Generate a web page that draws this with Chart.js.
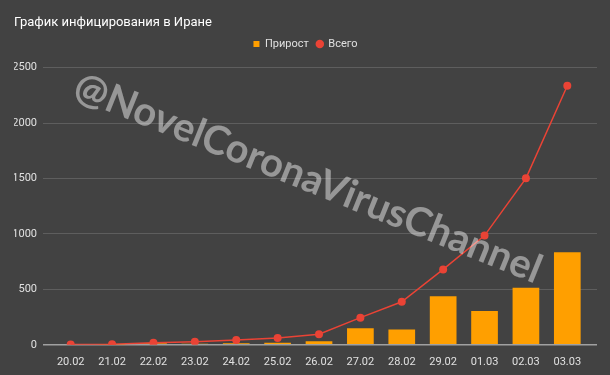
<!DOCTYPE html>
<html>
<head>
<meta charset="utf-8">
<script src="https://cdn.jsdelivr.net/npm/chart.js@4.4.1/dist/chart.umd.min.js"></script>
<style>
  html, body { margin: 0; padding: 0; background: #424242; }
  #wrap { width: 610px; height: 375px; }
</style>
</head>
<body>
<div id="wrap"><canvas id="chart" width="610" height="375"></canvas></div>
<script>
// --- Datos ---
const dias = ["20.02", "21.02", "22.02", "23.02", "24.02", "25.02", "26.02",
              "27.02", "28.02", "29.02", "01.03", "02.03", "03.03"];
const prirost = [0, 3, 13, 10, 15, 18, 32, 150, 138, 437, 304, 515, 835];
const vsego = [2, 5, 18, 28, 43, 61, 95, 245, 388, 680, 985, 1501, 2336];
const yTicks = [0, 500, 1000, 1500, 2000, 2500];

const ORANGE = "#ff9f00";
const RED = "#ea4335";
const TXT = "#e0e0e0";

// marca de agua encima del gráfico
const watermark = {
  id: "watermark",
  afterDraw(chart) {
    const ctx = chart.ctx;
    const text = "@NovelCoronaVirusChannel";
    ctx.save();
    ctx.font = "bold 40px Lato";
    const w = ctx.measureText(text).width;
    ctx.translate(308, 178);
    ctx.rotate(22 * Math.PI / 180);
    ctx.scale(500 / w, 1);
    ctx.fillStyle = "rgba(255,255,255,0.45)";
    ctx.textAlign = "center";
    ctx.textBaseline = "middle";
    ctx.fillText(text, 0, 0);
    ctx.restore();
  }
};

// un poco más de aire bajo la leyenda
const legendGap = {
  id: "legendGap",
  beforeInit(chart) {
    const fit = chart.legend.fit;
    chart.legend.fit = function () {
      fit.bind(chart.legend)();
      this.height += 8;
    };
  }
};

const ctx = document.getElementById("chart").getContext("2d");
new Chart(ctx, {
  data: {
    labels: dias,
    datasets: [
      {
        type: "bar",
        label: "Прирост",
        data: prirost,
        backgroundColor: ORANGE,
        barPercentage: 0.645,
        categoryPercentage: 1,
        pointStyle: "rect",
        order: 1
      },
      {
        type: "line",
        label: "Всего",
        data: vsego,
        borderColor: RED,
        backgroundColor: RED,
        borderWidth: 1.5,
        pointRadius: 4,
        pointBorderWidth: 0,
        pointStyle: "circle",
        tension: 0,
        order: 0
      }
    ]
  },
  options: {
    responsive: false,
    animation: false,
    layout: { padding: { left: 14, right: 13, top: 0, bottom: 3 } },
    plugins: {
      title: {
        display: true,
        text: "График инфицирования в Иране",
        align: "start",
        color: "#ffffff",
        font: { family: "Roboto", size: 13, weight: "normal" },
        padding: { top: 15, bottom: 0 }
      },
      legend: {
        display: true,
        labels: {
          color: TXT,
          font: { family: "Roboto", size: 11 },
          usePointStyle: true,
          boxWidth: 6,
          boxHeight: 6,
          padding: 8,
          sort: (a, b) => a.datasetIndex - b.datasetIndex
        }
      },
      tooltip: { enabled: false }
    },
    scales: {
      x: {
        grid: { display: false },
        border: { display: false },
        ticks: {
          color: TXT,
          font: { family: "Roboto", size: 11 },
          padding: 3,
          maxRotation: 0,
          autoSkip: false
        }
      },
      y: {
        min: 0,
        max: 2500,
        afterBuildTicks: s => { s.ticks = yTicks.map(v => ({ value: v })); },
        afterFit: s => { s.width = 36; },
        border: { display: false },
        grid: {
          color: c => (c.tick && c.tick.value === 0) ? "#a0a0a0" : "#5e5e5e",
          lineWidth: c => (c.tick && c.tick.value === 0) ? 1.5 : 1,
          drawTicks: true,
          tickLength: 7
        },
        ticks: {
          color: TXT,
          font: { family: "Roboto", size: 11 },
          padding: 6,
          callback: v => String(v)
        }
      },
      y2: {
        position: "right",
        min: 0,
        max: 2500,
        afterBuildTicks: s => { s.ticks = yTicks.map(v => ({ value: v })); },
        afterFit: s => { s.width = 9; },
        border: { display: false },
        grid: {
          drawOnChartArea: false,
          drawTicks: true,
          tickLength: 9,
          color: c => (c.tick && c.tick.value === 0) ? "#a0a0a0" : "#5e5e5e",
          lineWidth: c => (c.tick && c.tick.value === 0) ? 1.5 : 1
        },
        ticks: { display: false }
      }
    }
  },
  plugins: [watermark, legendGap]
});
</script>
</body>
</html>
